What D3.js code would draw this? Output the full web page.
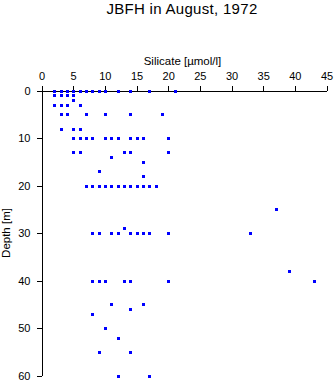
<!DOCTYPE html>
<html>
<head>
<meta charset="utf-8">
<script src="https://cdn.jsdelivr.net/npm/d3@7/dist/d3.min.js"></script>
<style>
  body { margin: 0; background: #fff; }
  svg { display: block; font-family: "Liberation Sans", Arial, sans-serif; }
</style>
</head>
<body>
<svg id="chart" width="335" height="384"></svg>
<script>
// Sample depths [m] and the silicate readings [µmol/l] taken at each depth
const depthLevels = [0, 1, 2, 3, 5, 8, 10, 13, 14, 15, 17, 18, 20, 25, 29, 30, 38, 40, 45, 46, 47, 50, 52, 55, 60];
const silicateByDepth = [
  [2, 3, 4, 5, 6, 7, 8, 9, 10, 12, 14, 17, 21],
  [2, 3, 4, 5],
  [5],
  [2, 3, 4, 6],
  [3, 4, 7, 10, 14, 19],
  [3, 5, 6],
  [5, 6, 7, 8, 10, 11, 12, 14, 15, 16, 20],
  [5, 6, 13, 14, 20],
  [11],
  [16],
  [9],
  [16],
  [7, 8, 9, 10, 11, 12, 13, 14, 15, 16, 17, 18],
  [37],
  [13],
  [8, 9, 11, 12, 14, 15, 16, 17, 20, 33],
  [39],
  [8, 9, 10, 13, 14, 20, 43],
  [11, 16],
  [14],
  [8],
  [10],
  [12],
  [9, 14],
  [12, 17]
];
const xTicks = [0, 5, 10, 15, 20, 25, 30, 35, 40, 45];
const yTicks = [0, 10, 20, 30, 40, 50, 60];

// Flatten into points
const points = [];
depthLevels.forEach((depth, i) => {
  silicateByDepth[i].forEach(si => points.push({ depth, si }));
});

const svg = d3.select("#chart");

const x = d3.scaleLinear().domain([0, 45]).range([41.5, 326.5]);
const y = d3.scaleLinear().domain([0, 60]).range([90.5, 375.5]);

// Title
svg.append("text")
  .attr("x", 182)
  .attr("y", 14)
  .attr("text-anchor", "middle")
  .attr("font-size", "15px")
  .attr("letter-spacing", "0.3px")
  .text("JBFH in August, 1972");

// X axis on top
const xAxis = svg.append("g")
  .attr("transform", `translate(0,${y(0)})`)
  .call(d3.axisTop(x).tickValues(xTicks).tickSize(5).tickSizeOuter(0).tickPadding(6));

// Y axis on left
const yAxis = svg.append("g")
  .attr("transform", `translate(${x(0)},0)`)
  .call(d3.axisLeft(y).tickValues(yTicks).tickSize(5).tickSizeOuter(0).tickPadding(6));

[xAxis, yAxis].forEach(g => {
  g.attr("font-family", null).attr("font-size", null);
  g.selectAll("path, line").attr("stroke", "#000").attr("shape-rendering", "crispEdges");
  g.selectAll("text").attr("fill", "#000").style("font-size", "11px");
});

// Axis titles
svg.append("text")
  .attr("x", 182.5)
  .attr("y", 65)
  .attr("text-anchor", "middle")
  .attr("font-size", "11.5px")
  .text("Silicate [µmol/l]");

svg.append("text")
  .attr("transform", `translate(9.5,${(y(0) + y(60)) / 2}) rotate(-90)`)
  .attr("text-anchor", "middle")
  .attr("font-size", "11.5px")
  .text("Depth [m]");

// Sample points as small blue squares
svg.append("g")
  .selectAll("rect")
  .data(points)
  .join("rect")
  .attr("x", d => Math.round(x(d.si)) - 1.5)
  .attr("y", d => Math.round(y(d.depth)) - 1.5)
  .attr("width", 3)
  .attr("height", 3)
  .attr("fill", "#0000ff")
  .attr("shape-rendering", "crispEdges");
</script>
</body>
</html>
